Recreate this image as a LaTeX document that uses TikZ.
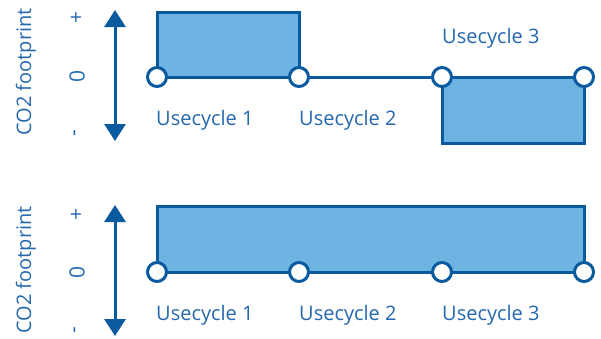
\documentclass[tikz,border=0pt]{standalone}
\usepackage{fontspec}
\setmainfont{Open Sans}
\usetikzlibrary{arrows.meta}
\definecolor{lineblue}{HTML}{0A5AA0}
\definecolor{fillblue}{HTML}{6DB4E2}
\definecolor{textblue}{HTML}{2468AE}
\tikzset{
  pt/.style={circle,draw=lineblue,fill=white,line width=3pt,minimum size=19pt,inner sep=0pt},
  bar/.style={draw=lineblue,fill=fillblue,line width=3pt},
  base/.style={draw=lineblue,line width=3pt},
  axis/.style={draw=lineblue,line width=3pt,{Triangle[width=21pt,length=17pt]}-{Triangle[width=21pt,length=17pt]}},
  lbl/.style={text=textblue,font=\fontsize{20}{22}\selectfont,anchor=base west,inner sep=0pt},
  tick/.style={text=textblue,font=\fontsize{21}{22}\selectfont,rotate=90,inner sep=0pt},
  ylbl/.style={text=textblue,font=\fontsize{20}{22}\selectfont,rotate=90,inner sep=0pt},
}
\begin{document}
\begin{tikzpicture}[x=1pt,y=-1pt]
\useasboundingbox (0,0) rectangle (601,338);

% ---------- upper chart ----------
\coordinate (ua1) at (115,10);
\coordinate (ua2) at (115,141);
\draw[axis] (ua1) -- (ua2);
\node[tick] (up) at (77,17) {+};
\node[tick] (uz) at (77,76) {0};
\node[tick] (um) at (77,133) {-};
\node[ylbl] (uy) at (26,72) {CO2 footprint};

\coordinate (u1) at (157,77);
\coordinate (u2) at (299,77);
\coordinate (u3) at (442,77);
\coordinate (u4) at (584,77);
\draw[bar] (u1) -- (157,12) -- (299,12) -- (u2);
\draw[bar] (u3) -- (442,143) -- (584,143) -- (u4);
\draw[base] (u1) -- (u2) -- (u3) -- (u4);
\node[pt] (p1) at (u1) {};
\node[pt] (p2) at (u2) {};
\node[pt] (p3) at (u3) {};
\node[pt] (p4) at (u4) {};
\node[lbl] (ul1) at (156,125) {Usecycle 1};
\node[lbl] (ul2) at (299,125) {Usecycle 2};
\node[lbl] (ul3) at (442,43) {Usecycle 3};

% ---------- lower chart ----------
\coordinate (la1) at (115,205);
\coordinate (la2) at (115,336);
\draw[axis] (la1) -- (la2);
\node[tick] (lp) at (77,214) {+};
\node[tick] (lz) at (77,272) {0};
\node[tick] (lm) at (77,330) {-};
\node[ylbl] (ly) at (26,270) {CO2 footprint};

\coordinate (l1) at (157,272);
\coordinate (l2) at (299,272);
\coordinate (l3) at (442,272);
\coordinate (l4) at (584,272);
\draw[bar] (l1) -- (157,206) -- (584,206) -- (l4) -- cycle;
\node[pt] (q1) at (l1) {};
\node[pt] (q2) at (l2) {};
\node[pt] (q3) at (l3) {};
\node[pt] (q4) at (l4) {};
\node[lbl] (ll1) at (156,320) {Usecycle 1};
\node[lbl] (ll2) at (299,320) {Usecycle 2};
\node[lbl] (ll3) at (442,320) {Usecycle 3};
\end{tikzpicture}
\end{document}
